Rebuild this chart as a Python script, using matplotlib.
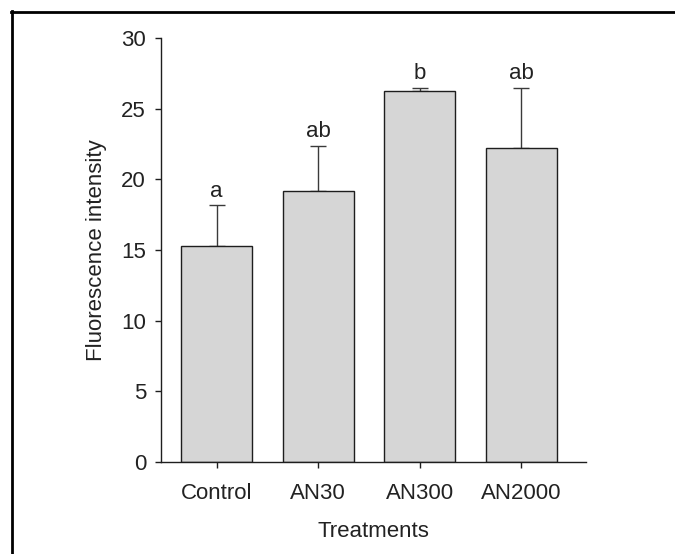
import matplotlib
matplotlib.use("Agg")
import matplotlib.pyplot as plt
from matplotlib.lines import Line2D

categories = ["Control", "AN30", "AN300", "AN2000"]
means = [15.3, 19.2, 26.3, 22.2]
errors = [2.9, 3.2, 0.2, 4.3]
letters = ["a", "ab", "b", "ab"]
yticks = [0, 5, 10, 15, 20, 25, 30]

plt.rcParams['font.family'] = ['Liberation Sans', 'DejaVu Sans']
FS = 16

W, H = 675, 554
fig = plt.figure(figsize=(W / 100, H / 100), dpi=100)
ax = fig.add_axes([160.7 / W, 1 - 461.7 / H, (586 - 160.7) / W, (461.7 - 38.3) / H])

x = list(range(len(categories)))
ax.bar(x, means, width=0.70, color="#d6d6d6", edgecolor="#1e1e1e", linewidth=1.0, zorder=2)
ax.errorbar(x, means, yerr=[[0] * len(errors), errors], fmt="none", ecolor="#3a3a3a",
            elinewidth=1.0, capsize=6, capthick=1.0, zorder=1)

for xi, m, e, lab in zip(x, means, errors, letters):
    ax.annotate(lab, (xi, m + e), xytext=(0, 6), textcoords="offset points",
                ha="center", va="baseline", fontsize=FS, color="#222222")

ax.set_xlim(-0.55, 3.64)
ax.set_ylim(0, 30)
ax.set_xticks(x)
ax.set_xticklabels(categories)
ax.set_yticks(yticks)
ax.spines["top"].set_visible(False)
ax.spines["right"].set_visible(False)
for s in ("left", "bottom"):
    ax.spines[s].set_linewidth(1.0)
    ax.spines[s].set_color("#1e1e1e")
ax.tick_params(axis="both", direction="out", length=4.5, width=1.0, color="#1e1e1e",
               labelsize=FS, labelcolor="#222222")
ax.tick_params(axis="x", pad=11)
ax.tick_params(axis="y", pad=6)
ax.set_xlabel("Treatments", fontsize=FS, color="#222222", labelpad=12)
ax.set_ylabel("Fluorescence intensity", fontsize=FS, color="#222222", labelpad=10)

# partial frame border (top and left)
fig.add_artist(Line2D([11 / W, 1.0], [1 - 11.5 / H, 1 - 11.5 / H], transform=fig.transFigure,
                      color="black", linewidth=2.0))
fig.add_artist(Line2D([12 / W, 12 / W], [0.0, 1 - 11 / H], transform=fig.transFigure,
                      color="black", linewidth=2.0))

fig.savefig("out.png", dpi=100)
